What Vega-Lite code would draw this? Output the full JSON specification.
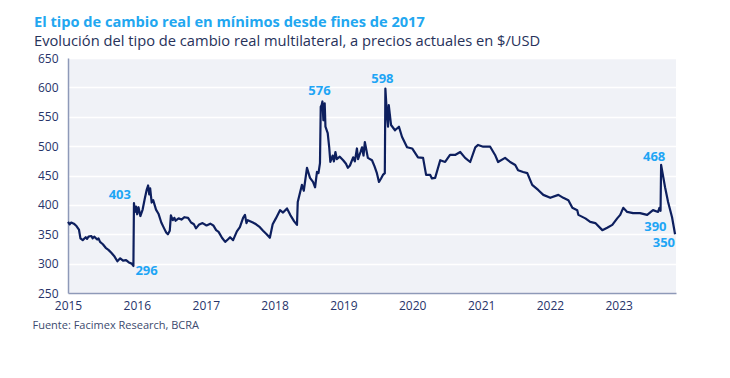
{
  "$schema": "https://vega.github.io/schema/vega-lite/v6.json",
  "width": 608,
  "height": 235,
  "autosize": {"type": "none"},
  "padding": {"left": 68, "top": 58, "right": 54, "bottom": 85},
  "background": "white",
  "title": {
    "text": "El tipo de cambio real en mínimos desde fines de 2017",
    "subtitle": "Evolución del tipo de cambio real multilateral, a precios actuales en $/USD",
    "anchor": "start",
    "frame": "group",
    "dx": -34,
    "offset": 3,
    "font": "Open Sans",
    "fontSize": 14.6,
    "fontWeight": "bold",
    "color": "#22a7f0",
    "subtitleFont": "Open Sans",
    "subtitleFontSize": 14.7,
    "subtitleColor": "#27325a",
    "subtitlePadding": 5
  },
  "config": {
    "view": {"stroke": null, "fill": "#f0f2f7"},
    "axis": {
      "labelFont": "Open Sans",
      "labelFontSize": 12,
      "labelFontWeight": 500,
      "labelColor": "#27346a",
      "domainColor": "#8e99b8",
      "domainWidth": 1.5,
      "ticks": false
    }
  },
  "datasets": {
    "tcrm": [
      {"fecha": "2015-01-01", "valor": 371}, {"fecha": "2015-01-10", "valor": 367}, {"fecha": "2015-01-18", "valor": 370}, {"fecha": "2015-02-01", "valor": 368}, {"fecha": "2015-02-15", "valor": 364}, {"fecha": "2015-02-28", "valor": 358}, {"fecha": "2015-03-08", "valor": 343}, {"fecha": "2015-03-20", "valor": 340}, {"fecha": "2015-04-05", "valor": 345}, {"fecha": "2015-04-12", "valor": 342}, {"fecha": "2015-04-20", "valor": 346}, {"fecha": "2015-05-05", "valor": 347}, {"fecha": "2015-05-12", "valor": 343}, {"fecha": "2015-05-20", "valor": 346}, {"fecha": "2015-06-05", "valor": 341}, {"fecha": "2015-06-12", "valor": 343}, {"fecha": "2015-06-20", "valor": 337}, {"fecha": "2015-07-05", "valor": 333}, {"fecha": "2015-07-20", "valor": 327}, {"fecha": "2015-08-05", "valor": 323}, {"fecha": "2015-08-20", "valor": 318}, {"fecha": "2015-09-05", "valor": 312}, {"fecha": "2015-09-20", "valor": 304}, {"fecha": "2015-10-05", "valor": 309}, {"fecha": "2015-10-20", "valor": 305}, {"fecha": "2015-11-05", "valor": 306}, {"fecha": "2015-11-20", "valor": 302}, {"fecha": "2015-12-05", "valor": 300}, {"fecha": "2015-12-14", "valor": 296}, {"fecha": "2015-12-17", "valor": 403}, {"fecha": "2015-12-22", "valor": 388}, {"fecha": "2015-12-28", "valor": 397}, {"fecha": "2016-01-03", "valor": 384},
      {"fecha": "2016-01-10", "valor": 396}, {"fecha": "2016-01-20", "valor": 381}, {"fecha": "2016-02-01", "valor": 392}, {"fecha": "2016-02-12", "valor": 410}, {"fecha": "2016-02-22", "valor": 425}, {"fecha": "2016-03-01", "valor": 433}, {"fecha": "2016-03-07", "valor": 418}, {"fecha": "2016-03-12", "valor": 428}, {"fecha": "2016-03-20", "valor": 404}, {"fecha": "2016-03-28", "valor": 408}, {"fecha": "2016-04-12", "valor": 392}, {"fecha": "2016-04-25", "valor": 385}, {"fecha": "2016-05-10", "valor": 370}, {"fecha": "2016-05-25", "valor": 360}, {"fecha": "2016-06-05", "valor": 353}, {"fecha": "2016-06-14", "valor": 350}, {"fecha": "2016-06-24", "valor": 356}, {"fecha": "2016-06-30", "valor": 382}, {"fecha": "2016-07-10", "valor": 374}, {"fecha": "2016-07-18", "valor": 378}, {"fecha": "2016-07-25", "valor": 373}, {"fecha": "2016-08-10", "valor": 377}, {"fecha": "2016-08-25", "valor": 375}, {"fecha": "2016-09-10", "valor": 379}, {"fecha": "2016-09-29", "valor": 378}, {"fecha": "2016-10-15", "valor": 370}, {"fecha": "2016-10-30", "valor": 367}, {"fecha": "2016-11-10", "valor": 360}, {"fecha": "2016-11-25", "valor": 366}, {"fecha": "2016-12-15", "valor": 369},
      {"fecha": "2017-01-05", "valor": 365}, {"fecha": "2017-01-25", "valor": 368}, {"fecha": "2017-02-10", "valor": 365}, {"fecha": "2017-02-25", "valor": 357}, {"fecha": "2017-03-10", "valor": 354}, {"fecha": "2017-03-28", "valor": 344}, {"fecha": "2017-04-14", "valor": 337}, {"fecha": "2017-04-28", "valor": 341}, {"fecha": "2017-05-10", "valor": 345}, {"fecha": "2017-05-26", "valor": 340}, {"fecha": "2017-06-15", "valor": 355}, {"fecha": "2017-07-01", "valor": 362}, {"fecha": "2017-07-18", "valor": 378}, {"fecha": "2017-07-28", "valor": 383}, {"fecha": "2017-08-05", "valor": 369}, {"fecha": "2017-08-12", "valor": 374}, {"fecha": "2017-09-08", "valor": 370}, {"fecha": "2017-09-25", "valor": 367}, {"fecha": "2017-10-15", "valor": 362}, {"fecha": "2017-11-01", "valor": 356}, {"fecha": "2017-11-20", "valor": 350}, {"fecha": "2017-12-07", "valor": 344}, {"fecha": "2017-12-22", "valor": 367},
      {"fecha": "2018-01-08", "valor": 377}, {"fecha": "2018-01-30", "valor": 391}, {"fecha": "2018-02-15", "valor": 387}, {"fecha": "2018-03-08", "valor": 394}, {"fecha": "2018-03-25", "valor": 383}, {"fecha": "2018-04-15", "valor": 372}, {"fecha": "2018-04-30", "valor": 366}, {"fecha": "2018-05-04", "valor": 405}, {"fecha": "2018-05-14", "valor": 418}, {"fecha": "2018-05-26", "valor": 434}, {"fecha": "2018-06-05", "valor": 424}, {"fecha": "2018-06-22", "valor": 463}, {"fecha": "2018-07-08", "valor": 446}, {"fecha": "2018-07-24", "valor": 439}, {"fecha": "2018-08-04", "valor": 430}, {"fecha": "2018-08-14", "valor": 456}, {"fecha": "2018-08-22", "valor": 454}, {"fecha": "2018-08-30", "valor": 471}, {"fecha": "2018-09-03", "valor": 567}, {"fecha": "2018-09-08", "valor": 570}, {"fecha": "2018-09-12", "valor": 576}, {"fecha": "2018-09-17", "valor": 544}, {"fecha": "2018-09-24", "valor": 573}, {"fecha": "2018-09-28", "valor": 533}, {"fecha": "2018-10-10", "valor": 522}, {"fecha": "2018-10-18", "valor": 498}, {"fecha": "2018-10-24", "valor": 473}, {"fecha": "2018-11-05", "valor": 484}, {"fecha": "2018-11-12", "valor": 474}, {"fecha": "2018-11-20", "valor": 490}, {"fecha": "2018-11-27", "valor": 478}, {"fecha": "2018-12-13", "valor": 482}, {"fecha": "2018-12-31", "valor": 476},
      {"fecha": "2019-01-15", "valor": 470}, {"fecha": "2019-01-25", "valor": 463}, {"fecha": "2019-02-05", "valor": 467}, {"fecha": "2019-02-22", "valor": 481}, {"fecha": "2019-03-03", "valor": 474}, {"fecha": "2019-03-14", "valor": 496}, {"fecha": "2019-03-20", "valor": 478}, {"fecha": "2019-04-02", "valor": 490}, {"fecha": "2019-04-10", "valor": 498}, {"fecha": "2019-04-18", "valor": 484}, {"fecha": "2019-04-25", "valor": 507}, {"fecha": "2019-05-11", "valor": 480}, {"fecha": "2019-06-02", "valor": 476}, {"fecha": "2019-06-15", "valor": 466}, {"fecha": "2019-06-28", "valor": 454}, {"fecha": "2019-07-09", "valor": 439}, {"fecha": "2019-07-20", "valor": 445}, {"fecha": "2019-07-30", "valor": 451}, {"fecha": "2019-08-09", "valor": 454}, {"fecha": "2019-08-12", "valor": 598}, {"fecha": "2019-08-20", "valor": 555}, {"fecha": "2019-08-26", "valor": 533}, {"fecha": "2019-08-30", "valor": 570}, {"fecha": "2019-09-11", "valor": 536}, {"fecha": "2019-10-02", "valor": 527}, {"fecha": "2019-10-23", "valor": 533}, {"fecha": "2019-11-08", "valor": 516}, {"fecha": "2019-12-05", "valor": 498},
      {"fecha": "2020-01-01", "valor": 496}, {"fecha": "2020-02-01", "valor": 481}, {"fecha": "2020-02-28", "valor": 480}, {"fecha": "2020-03-15", "valor": 451}, {"fecha": "2020-04-06", "valor": 451}, {"fecha": "2020-04-15", "valor": 445}, {"fecha": "2020-05-02", "valor": 446}, {"fecha": "2020-05-29", "valor": 476}, {"fecha": "2020-06-24", "valor": 473}, {"fecha": "2020-07-20", "valor": 485}, {"fecha": "2020-08-16", "valor": 485}, {"fecha": "2020-09-12", "valor": 490}, {"fecha": "2020-10-08", "valor": 480}, {"fecha": "2020-11-04", "valor": 473}, {"fecha": "2020-12-01", "valor": 498}, {"fecha": "2020-12-16", "valor": 502},
      {"fecha": "2021-01-12", "valor": 499}, {"fecha": "2021-02-18", "valor": 499}, {"fecha": "2021-03-16", "valor": 485}, {"fecha": "2021-04-01", "valor": 473}, {"fecha": "2021-05-08", "valor": 480}, {"fecha": "2021-06-04", "valor": 473}, {"fecha": "2021-07-01", "valor": 468}, {"fecha": "2021-07-16", "valor": 459}, {"fecha": "2021-08-12", "valor": 456}, {"fecha": "2021-09-03", "valor": 454}, {"fecha": "2021-09-29", "valor": 434}, {"fecha": "2021-11-01", "valor": 425}, {"fecha": "2021-11-27", "valor": 417},
      {"fecha": "2022-01-03", "valor": 412}, {"fecha": "2022-02-15", "valor": 417}, {"fecha": "2022-03-13", "valor": 412}, {"fecha": "2022-04-09", "valor": 408}, {"fecha": "2022-04-30", "valor": 395}, {"fecha": "2022-05-26", "valor": 391}, {"fecha": "2022-06-01", "valor": 383}, {"fecha": "2022-07-08", "valor": 377}, {"fecha": "2022-08-03", "valor": 371}, {"fecha": "2022-08-30", "valor": 369}, {"fecha": "2022-10-06", "valor": 357}, {"fecha": "2022-11-01", "valor": 361}, {"fecha": "2022-11-28", "valor": 366}, {"fecha": "2022-12-24", "valor": 377},
      {"fecha": "2023-01-09", "valor": 383}, {"fecha": "2023-01-25", "valor": 395}, {"fecha": "2023-02-15", "valor": 388}, {"fecha": "2023-03-18", "valor": 386}, {"fecha": "2023-04-24", "valor": 386}, {"fecha": "2023-06-01", "valor": 383}, {"fecha": "2023-07-02", "valor": 391}, {"fecha": "2023-07-29", "valor": 388}, {"fecha": "2023-08-05", "valor": 395}, {"fecha": "2023-08-11", "valor": 390}, {"fecha": "2023-08-14", "valor": 468}, {"fecha": "2023-09-04", "valor": 430}, {"fecha": "2023-09-20", "valor": 405}, {"fecha": "2023-10-11", "valor": 379}, {"fecha": "2023-10-27", "valor": 350}
    ],
    "etiquetas": [
      {"fecha": "2015-12-17", "valor": 403, "etiqueta": "403"},
      {"fecha": "2015-12-14", "valor": 296, "etiqueta": "296"},
      {"fecha": "2018-09-12", "valor": 576, "etiqueta": "576"},
      {"fecha": "2019-08-12", "valor": 598, "etiqueta": "598"},
      {"fecha": "2023-08-14", "valor": 468, "etiqueta": "468"},
      {"fecha": "2023-08-11", "valor": 390, "etiqueta": "390"},
      {"fecha": "2023-10-27", "valor": 350, "etiqueta": "350"}
    ]
  },
  "encoding": {
    "x": {
      "field": "fecha",
      "type": "temporal",
      "scale": {"type": "utc", "domain": [{"year": 2015, "month": 1, "date": 1, "utc": true}, {"year": 2023, "month": 11, "date": 1, "utc": true}]},
      "axis": {
        "format": "%Y",
        "formatType": "utc",
        "tickCount": {"interval": "year", "step": 1},
        "grid": false,
        "labelPadding": 7,
        "labelFlush": false,
        "title": "Fuente: Facimex Research, BCRA",
        "titleX": -36,
        "titleY": 32,
        "titleAlign": "left",
        "titleBaseline": "middle",
        "titleFont": "Open Sans",
        "titleFontSize": 11,
        "titleFontWeight": "normal",
        "titleColor": "#3c4a6e"
      }
    },
    "y": {
      "field": "valor",
      "type": "quantitative",
      "scale": {"domain": [250, 650], "nice": false, "zero": false},
      "axis": {
        "values": [250, 300, 350, 400, 450, 500, 550, 600, 650],
        "grid": true,
        "gridColor": "#ffffff",
        "gridWidth": 1.5,
        "labelPadding": 10,
        "title": null
      }
    }
  },
  "layer": [
    {
      "data": {"name": "tcrm"},
      "mark": {"type": "line", "color": "#0d1f5e", "strokeWidth": 2.2, "strokeJoin": "round"}
    },
    {
      "data": {"name": "etiquetas"},
      "transform": [{"filter": {"field": "etiqueta", "oneOf": ["576", "598"]}}],
      "mark": {"type": "text", "font": "Open Sans", "fontSize": 13, "fontWeight": "bold", "color": "#1ea5f5", "align": "center", "baseline": "middle", "dx": -3, "dy": -10},
      "encoding": {"text": {"field": "etiqueta"}}
    },
    {
      "data": {"name": "etiquetas"},
      "transform": [{"filter": {"field": "etiqueta", "equal": "468"}}],
      "mark": {"type": "text", "font": "Open Sans", "fontSize": 13, "fontWeight": "bold", "color": "#1ea5f5", "align": "center", "baseline": "middle", "dx": -7, "dy": -8},
      "encoding": {"text": {"field": "etiqueta"}}
    },
    {
      "data": {"name": "etiquetas"},
      "transform": [{"filter": {"field": "etiqueta", "equal": "403"}}],
      "mark": {"type": "text", "font": "Open Sans", "fontSize": 13, "fontWeight": "bold", "color": "#1ea5f5", "align": "right", "baseline": "middle", "dx": -3, "dy": -8},
      "encoding": {"text": {"field": "etiqueta"}}
    },
    {
      "data": {"name": "etiquetas"},
      "transform": [{"filter": {"field": "etiqueta", "equal": "296"}}],
      "mark": {"type": "text", "font": "Open Sans", "fontSize": 13, "fontWeight": "bold", "color": "#1ea5f5", "align": "left", "baseline": "middle", "dx": 2, "dy": 5},
      "encoding": {"text": {"field": "etiqueta"}}
    },
    {
      "data": {"name": "etiquetas"},
      "transform": [{"filter": {"field": "etiqueta", "equal": "390"}}],
      "mark": {"type": "text", "font": "Open Sans", "fontSize": 13, "fontWeight": "bold", "color": "#1ea5f5", "align": "right", "baseline": "middle", "dx": 6, "dy": 16},
      "encoding": {"text": {"field": "etiqueta"}}
    },
    {
      "data": {"name": "etiquetas"},
      "transform": [{"filter": {"field": "etiqueta", "equal": "350"}}],
      "mark": {"type": "text", "font": "Open Sans", "fontSize": 13, "fontWeight": "bold", "color": "#1ea5f5", "align": "right", "baseline": "middle", "dx": 0, "dy": 9},
      "encoding": {"text": {"field": "etiqueta"}}
    }
  ]
}
